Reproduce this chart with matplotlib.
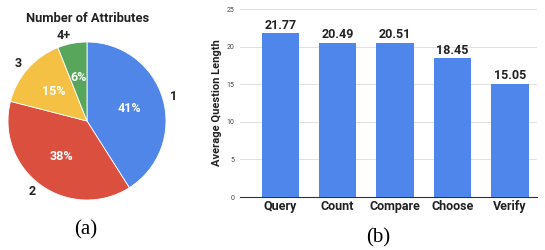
import matplotlib.pyplot as plt

# pie data
attr_labels = ["1", "2", "3", "4+"]
attr_share = [41, 38, 15, 6]
pie_colors = ["#4f86e8", "#db4f3f", "#f4c145", "#58a55c"]

# bar data
question_types = ["Query", "Count", "Compare", "Choose", "Verify"]
avg_length = [21.77, 20.49, 20.51, 18.45, 15.05]

plt.rcParams['font.family'] = ['Roboto', 'DejaVu Sans']

fig = plt.figure(figsize=(5.45, 2.5), dpi=100)
W, H = 545.0, 250.0

# pie panel
cx, cy, r = 87, 121, 79
ax1 = fig.add_axes([(cx - r) / W, (H - cy - r) / H, 2 * r / W, 2 * r / H])
wedges, texts, autotexts = ax1.pie(
    attr_share, labels=attr_labels, colors=pie_colors, startangle=90,
    counterclock=False, autopct='%d%%', pctdistance=0.56,
    labeldistance=1.1, radius=1,
    wedgeprops=dict(edgecolor='white', linewidth=0.6))
for t in texts:
    t.set_fontsize(9)
    t.set_fontweight('bold')
    t.set_color('#222222')
for t in autotexts:
    t.set_fontsize(9)
    t.set_fontweight('bold')
    t.set_color('white')
ax1.set_xlim(-1, 1)
ax1.set_ylim(-1, 1)
ax1.set_aspect('equal')
fig.text(88 / W, 1 - 18 / H, "Number of Attributes", ha='center', va='center',
         fontsize=9.3, fontweight='bold', color='#222222')
fig.text(86 / W, 1 - 230 / H, "(a)", ha='center', va='center',
         fontsize=15, family='Liberation Serif')

# bar panel
ax2 = fig.add_axes([240 / W, (H - 197) / H, 297 / W, 188 / H])
x = range(len(question_types))
bars = ax2.bar(x, avg_length, width=0.65, color="#4f86ec", zorder=3)
for xi, v in zip(x, avg_length):
    ax2.text(xi, v + 0.2, "%.2f" % v, ha='center', va='bottom',
             fontsize=9, fontweight='bold', color='#222222')
ax2.set_xlim(-0.7, 4.47)
ax2.set_ylim(0, 25)
ax2.set_yticks([0, 5, 10, 15, 20, 25])
ax2.tick_params(axis='y', labelsize=5, length=0, pad=4, colors='#444444')
ax2.set_xticks(list(x))
ax2.set_xticklabels(question_types, fontsize=9, fontweight='bold', color='#222222')
ax2.tick_params(axis='x', length=0, pad=2)
ax2.grid(axis='y', color='#e0e0e0', linewidth=0.7, zorder=0)
for s in ['top', 'right', 'left']:
    ax2.spines[s].set_visible(False)
ax2.spines['bottom'].set_color('#333333')
ax2.spines['bottom'].set_linewidth(0.8)
ax2.set_ylabel("Average Question Length", fontsize=8, fontweight='bold',
               color='#222222', labelpad=3)
fig.text(378 / W, 1 - 238 / H, "(b)", ha='center', va='center',
         fontsize=15, family='Liberation Serif')

fig.savefig("out.png", dpi=100)
